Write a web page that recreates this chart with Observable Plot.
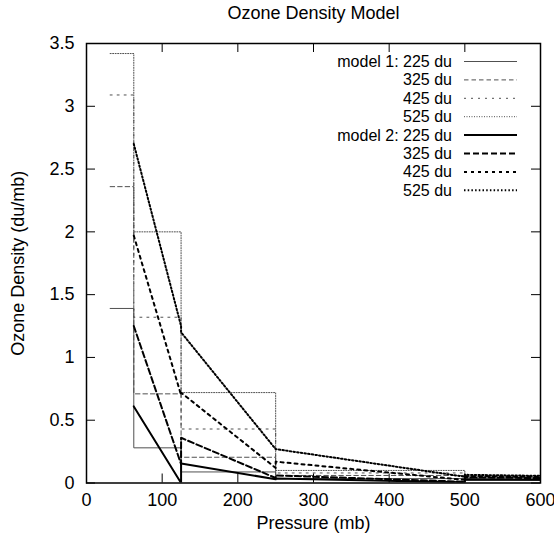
<!DOCTYPE html>
<html>
<head>
<meta charset="utf-8">
<script src="https://cdn.jsdelivr.net/npm/d3@7"></script>
<script src="https://cdn.jsdelivr.net/npm/@observablehq/plot@0.6"></script>
<style>
  body { margin: 0; background: #fff; }
  svg { font-family: "Liberation Sans", Arial, Helvetica, sans-serif; }
</style>
</head>
<body>
<div id="chart"></div>
<script>
// ---- data ----
const titleText = "Ozone Density Model";
const xLabel = "Pressure (mb)";
const yLabel = "Ozone Density (du/mb)";
const xTicks = [0, 100, 200, 300, 400, 500, 600];
const yTicks = [0, 0.5, 1, 1.5, 2, 2.5, 3, 3.5];
const layerEdges = [31.25, 62.5, 125, 250, 500, 1000];
const columns = ["225 du", "325 du", "425 du", "525 du"];

// model 1: constant density per layer (5 layers)
const model1_225 = [1.39, 0.28, 0.088, 0.035, 0.02];
const model1_325 = [2.36, 0.71, 0.205, 0.06, 0.03];
const model1_425 = [3.09, 1.32, 0.43, 0.08, 0.04];
const model1_525 = [3.42, 2.00, 0.72, 0.10, 0.05];

// model 2: linear density within layers 2..5 (value at top edge, value at bottom edge)
const model2Top_225 = [0.61, 0.155, 0.035, 0.03];
const model2Bot_225 = [0.00, 0.030, 0.005, 0.01];
const model2Top_325 = [1.25, 0.36, 0.06, 0.045];
const model2Bot_325 = [0.15, 0.04, 0.01, 0.015];
const model2Top_425 = [1.97, 0.72, 0.17, 0.055];
const model2Bot_425 = [0.70, 0.12, 0.025, 0.02];
const model2Top_525 = [2.70, 1.20, 0.27, 0.065];
const model2Bot_525 = [1.25, 0.27, 0.05, 0.025];

// ---- build tables ----
function stepRows(vals) {
  const rows = vals.map((v, i) => ({p: layerEdges[i], v}));
  rows.push({p: layerEdges[layerEdges.length - 1], v: vals[vals.length - 1]});
  return rows;
}
function linearRows(tops, bots) {
  const rows = [];
  tops.forEach((t, j) => {
    rows.push({p: layerEdges[j + 1], v: t});
    rows.push({p: layerEdges[j + 2], v: bots[j]});
  });
  return rows;
}
const model1 = [model1_225, model1_325, model1_425, model1_525].map(stepRows);
const model2 = [
  linearRows(model2Top_225, model2Bot_225),
  linearRows(model2Top_325, model2Bot_325),
  linearRows(model2Top_425, model2Bot_425),
  linearRows(model2Top_525, model2Bot_525)
];

// ---- styles ----
const m1Color = "#505050", m2Color = "#000";
const m1Dash = [null, "4.5,3", "2,5", "1,1.5"];
const m2Dash = [null, "6,3", "3,4", "1.5,2.2"];
const m1Width = 1, m2Width = 2;

const W = 554, H = 542, mL = 86, mR = 14, mT = 43, mB = 59.5;
const innerH = H - mT - mB, innerW = W - mL - mR, tickLen = 9;

const marks = [];
model1.forEach((rows, i) => marks.push(Plot.line(rows, {
  x: "p", y: "v", curve: "step-after", stroke: m1Color, strokeWidth: m1Width,
  strokeDasharray: m1Dash[i], clip: true
})));
model2.forEach((rows, i) => marks.push(Plot.line(rows, {
  x: "p", y: "v", stroke: m2Color, strokeWidth: m2Width,
  strokeDasharray: m2Dash[i], clip: true
})));
// inward ticks on all four sides
marks.push(Plot.tickX(xTicks, {x: d => d, insetTop: innerH - tickLen, stroke: "#000"}));
marks.push(Plot.tickX(xTicks, {x: d => d, insetBottom: innerH - tickLen, stroke: "#000"}));
marks.push(Plot.tickY(yTicks, {y: d => d, insetRight: innerW - tickLen, stroke: "#000"}));
marks.push(Plot.tickY(yTicks, {y: d => d, insetLeft: innerW - tickLen, stroke: "#000"}));
marks.push(Plot.frame({stroke: "#000", strokeWidth: 1.5}));
// titles
marks.push(Plot.text([titleText], {text: d => d, frameAnchor: "top", lineAnchor: "middle", textAnchor: "middle", dy: -30, fontSize: 18}));
marks.push(Plot.text([xLabel], {text: d => d, frameAnchor: "bottom", lineAnchor: "middle", textAnchor: "middle", dy: 40.5, fontSize: 18}));
marks.push(Plot.text([yLabel], {text: d => d, frameAnchor: "left", lineAnchor: "middle", textAnchor: "middle", rotate: -90, dx: -67.8, fontSize: 18}));

const chart = Plot.plot({
  width: W, height: H,
  marginLeft: mL, marginRight: mR, marginTop: mT, marginBottom: mB,
  style: {fontSize: "18px", fontFamily: '"Liberation Sans", Arial, Helvetica, sans-serif', overflow: "visible", background: "#fff"},
  x: {domain: [0, 600], ticks: xTicks, tickSize: 0, tickPadding: 10.5, tickFormat: d => String(d), label: null},
  y: {domain: [0, 3.5], ticks: yTicks, tickSize: 0, tickPadding: 12, tickFormat: d => String(d), label: null},
  marks
});
document.getElementById("chart").appendChild(chart);

// ---- legend ----
const legendRows = [
  {label: "model 1: " + columns[0], color: m1Color, width: m1Width, dash: m1Dash[0]},
  {label: columns[1], color: m1Color, width: m1Width, dash: m1Dash[1]},
  {label: columns[2], color: m1Color, width: m1Width, dash: m1Dash[2]},
  {label: columns[3], color: m1Color, width: m1Width, dash: m1Dash[3]},
  {label: "model 2: " + columns[0], color: m2Color, width: m2Width, dash: m2Dash[0]},
  {label: columns[1], color: m2Color, width: m2Width, dash: m2Dash[1]},
  {label: columns[2], color: m2Color, width: m2Width, dash: m2Dash[2]},
  {label: columns[3], color: m2Color, width: m2Width, dash: m2Dash[3]}
];
const svg = d3.select(chart.tagName.toLowerCase() === "svg" ? chart : chart.querySelector("svg"));
const lg = svg.append("g").attr("class", "legend");
legendRows.forEach((r, i) => {
  const y = 61.5 + 18.4 * i;
  lg.append("text").attr("x", 452).attr("y", y + 5.5).attr("text-anchor", "end")
    .attr("font-size", 16).attr("fill", "#000").text(r.label);
  lg.append("line").attr("x1", 464).attr("x2", 517).attr("y1", y).attr("y2", y)
    .attr("stroke", r.color).attr("stroke-width", r.width)
    .attr("stroke-dasharray", r.dash);
});
</script>
</body>
</html>
